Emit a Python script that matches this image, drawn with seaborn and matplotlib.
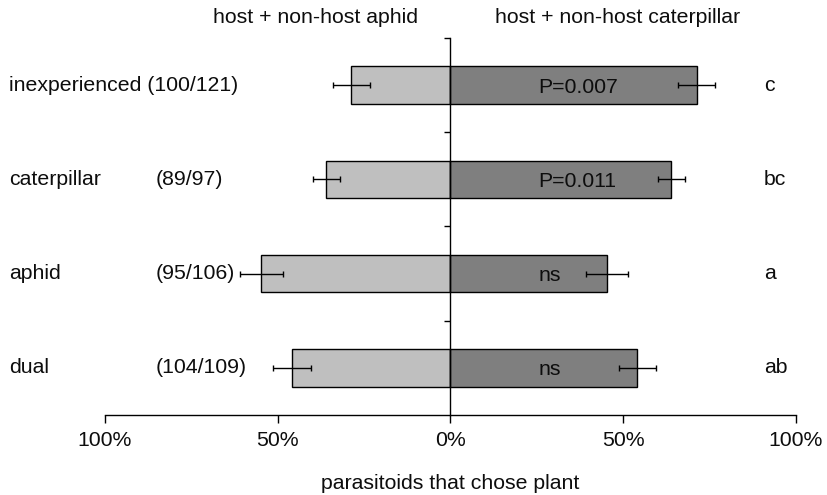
import matplotlib
matplotlib.use("Agg")
import matplotlib.pyplot as plt
import seaborn as sns
import pandas as pd
import numpy as np

# Choice of host + non-host aphid plant vs. host + non-host caterpillar plant
groups = ["inexperienced", "caterpillar", "aphid", "dual"]
counts = ["(100/121)", "(89/97)", "(95/106)", "(104/109)"]
aphid_pct = [28.7, 36.0, 54.7, 45.9]
caterpillar_pct = [71.3, 64.0, 45.3, 54.1]
aphid_err = [5.3, 3.9, 6.1, 5.4]
caterpillar_err = [5.3, 3.8, 6.1, 5.4]
pair_tests = ["P=0.007", "P=0.011", "ns", "ns"]
letters = ["c", "bc", "a", "ab"]
tick_values = [-100, -50, 0, 50, 100]
tick_labels = ["100%", "50%", "0%", "50%", "100%"]

FS = 15.3
TXT = "#0d0d0d"

sns.set_theme(style="white")
plt.rcParams["font.family"] = ["Liberation Sans", "DejaVu Sans"]
plt.rcParams["font.size"] = FS

df = pd.DataFrame({
    "group": groups,
    "aphid": -np.array(aphid_pct),
    "caterpillar": caterpillar_pct,
})

fig = plt.figure(figsize=(8.27, 4.95), dpi=100)
ax = fig.add_axes([105 / 827, 1 - 415 / 495, 690.8 / 827, 377 / 495])

sns.barplot(data=df, x="aphid", y="group", orient="h", color="#bfbfbf",
            saturation=1, width=0.4, edgecolor="black", linewidth=1.0, ax=ax)
sns.barplot(data=df, x="caterpillar", y="group", orient="h", color="#7f7f7f",
            saturation=1, width=0.4, edgecolor="black", linewidth=1.0, ax=ax)

ypos = np.arange(len(groups))
ax.errorbar(-np.array(aphid_pct), ypos, xerr=aphid_err, fmt="none",
            ecolor="black", elinewidth=1.0, capsize=2.2, capthick=1.0, zorder=5)
ax.errorbar(caterpillar_pct, ypos, xerr=caterpillar_err, fmt="none",
            ecolor="black", elinewidth=1.0, capsize=2.2, capthick=1.0, zorder=5)

ax.set_xlim(-100, 100)
ax.set_ylim(3.5, -0.5)

# axes styling: central vertical axis at 0, bottom percentage axis
for side in ["top", "right"]:
    ax.spines[side].set_visible(False)
ax.spines["left"].set_position(("data", 0))
ax.spines["left"].set_zorder(6)
for side in ["left", "bottom"]:
    ax.spines[side].set_color("black")
    ax.spines[side].set_linewidth(1.0)

ax.set_yticks([-0.5, 0.5, 1.5, 2.5])
ax.set_yticklabels([])
ax.tick_params(axis="y", left=True, length=4.5, width=1.0, color="black", direction="out")
ax.set_xticks(tick_values)
ax.set_xticklabels(tick_labels)
ax.tick_params(axis="x", bottom=True, length=5.5, width=1.0, color="black",
               direction="out", pad=6, labelsize=FS, labelcolor=TXT)
ax.set_ylabel("")
ax.set_xlabel("parasitoids that chose plant", fontsize=FS, labelpad=17, color=TXT)

for i in range(len(groups)):
    if i == 0:
        ax.text(-127.9, i, f"{groups[i]} {counts[i]}", ha="left", va="center",
                fontsize=FS, color=TXT, clip_on=False)
    else:
        ax.text(-127.9, i, groups[i], ha="left", va="center",
                fontsize=FS, color=TXT, clip_on=False)
        ax.text(-85.2, i, counts[i], ha="left", va="center",
                fontsize=FS, color=TXT, clip_on=False)
    ax.text(25.4, i + 0.02, pair_tests[i], ha="left", va="center",
            fontsize=FS, color=TXT, zorder=7)
    ax.text(90.8, i, letters[i], ha="left", va="center",
            fontsize=FS, color=TXT, clip_on=False)

ax.text(-39, 1.055, "host + non-host aphid", transform=ax.get_xaxis_transform(),
        ha="center", va="center", fontsize=FS, color=TXT)
ax.text(48.3, 1.055, "host + non-host caterpillar", transform=ax.get_xaxis_transform(),
        ha="center", va="center", fontsize=FS, color=TXT)

fig.savefig("out.png", dpi=100)
